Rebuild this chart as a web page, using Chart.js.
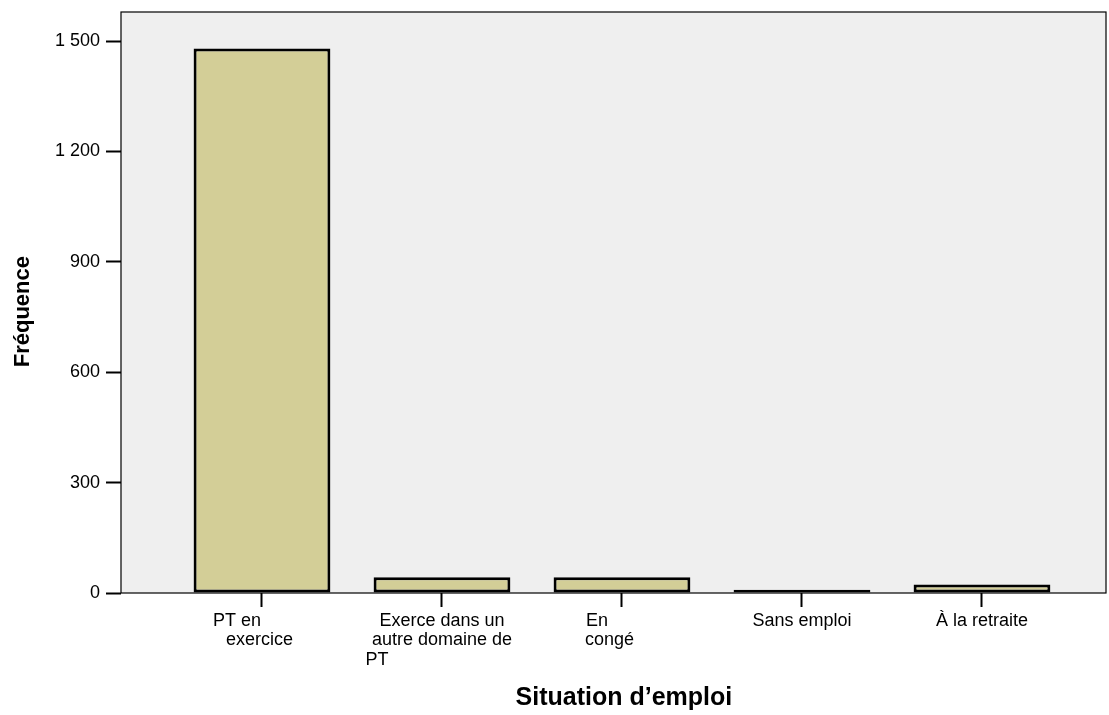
<!DOCTYPE html>
<html>
<head>
<meta charset="utf-8">
<script src="https://cdn.jsdelivr.net/npm/chart.js@4.4.1/dist/chart.umd.min.js"></script>
<style>
  html, body { margin: 0; padding: 0; background: #fff; }
  #wrap { width: 1109px; height: 715px; }
</style>
</head>
<body>
<div id="wrap"><canvas id="situationChart" width="1109" height="715"></canvas></div>
<script>
// categories as wrapped by the original software
const categories = [
  ["PT en          ", "exercice "],
  ["Exerce dans un", "autre domaine de", "PT                          "],
  ["En          ", "congé     "],
  ["Sans emploi"],
  ["À la retraite"],
];
const frequencies = [1480, 43, 43, 9, 23];
const yTickValues = [0, 300, 600, 900, 1200, 1500];
const yTickLabels = ["0", "300", "600", "900", "1 200", "1 500"];

const barFill = "#d3ce97";
const plotBg = "#efefef";

// gray plot area with black frame
const plotFrame = {
  id: "plotFrame",
  beforeDraw(chart) {
    const { ctx, chartArea } = chart;
    ctx.save();
    ctx.fillStyle = plotBg;
    ctx.fillRect(chartArea.left, chartArea.top, chartArea.width, chartArea.height);
    ctx.restore();
  },
  afterDraw(chart) {
    const { ctx, chartArea } = chart;
    ctx.save();
    ctx.strokeStyle = "#000";
    ctx.lineWidth = 1.2;
    ctx.strokeRect(chartArea.left, chartArea.top, chartArea.width, chartArea.height);
    ctx.restore();
  },
};

const ctx = document.getElementById("situationChart").getContext("2d");

new Chart(ctx, {
  type: "bar",
  data: {
    datasets: [
      {
        label: "Fréquence",
        data: frequencies.map((v, i) => ({ x: i, y: v })),
        backgroundColor: barFill,
        borderColor: "#000",
        borderWidth: 3,
        borderSkipped: false,
        barPercentage: 0.76,
        categoryPercentage: 1,
      },
    ],
  },
  options: {
    responsive: false,
    animation: false,
    devicePixelRatio: 1,
    layout: {
      padding: { top: 12, right: 3, left: 0, bottom: 0 },
    },
    plugins: {
      legend: { display: false },
      tooltip: { enabled: false },
    },
    scales: {
      x: {
        type: "linear",
        offset: false,
        min: -0.7833,
        max: 4.689,
        afterBuildTicks: (axis) => {
          axis.ticks = categories.map((c, i) => ({ value: i }));
        },
        afterFit: (axis) => {
          axis.height = 122;
          axis.paddingLeft = 0;
          axis.paddingRight = 0;
        },
        grid: {
          offset: false,
          drawOnChartArea: false,
          drawTicks: true,
          tickLength: 14,
          tickColor: "#000",
          tickWidth: 2,
        },
        border: { display: false },
        ticks: {
          color: "#000",
          padding: 4,
          maxRotation: 0,
          autoSkip: false,
          font: { family: "'Liberation Sans', Arial, sans-serif", size: 18, lineHeight: 1.08 },
          callback: (value) => categories[value],
        },
        title: {
          display: true,
          text: "   Situation d’emploi",
          color: "#000",
          padding: { top: 0, bottom: 2 },
          font: { family: "'Liberation Sans', Arial, sans-serif", size: 25, weight: "bold" },
        },
      },
      y: {
        min: 0,
        max: 1579,
        afterBuildTicks: (axis) => {
          axis.ticks = yTickValues.map((v) => ({ value: v }));
        },
        afterFit: (axis) => {
          axis.width = 121;
          axis.paddingTop = 0;
          axis.paddingBottom = 0;
        },
        grid: {
          drawOnChartArea: false,
          drawTicks: true,
          tickLength: 15,
          tickColor: "#000",
          tickWidth: 2,
        },
        border: { display: false },
        ticks: {
          color: "#000",
          padding: 6,
          font: { family: "'Liberation Sans', Arial, sans-serif", size: 18 },
          callback: (value) => yTickLabels[yTickValues.indexOf(value)],
        },
        title: {
          display: true,
          text: "Fréquence   ",
          color: "#000",
          padding: { top: 10, bottom: 0 },
          font: { family: "'Liberation Sans', Arial, sans-serif", size: 22, weight: "bold" },
        },
      },
    },
  },
  plugins: [plotFrame],
});
</script>
</body>
</html>
